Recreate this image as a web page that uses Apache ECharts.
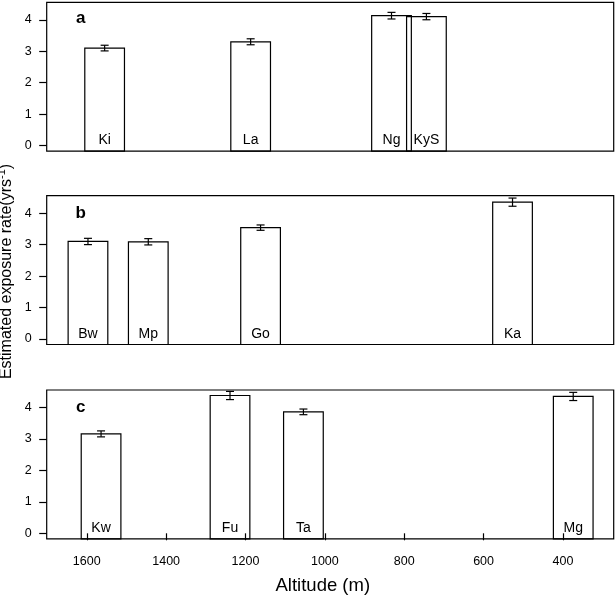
<!DOCTYPE html>
<html>
<head>
<meta charset="utf-8">
<script src="https://cdn.jsdelivr.net/npm/echarts@6/dist/echarts.min.js"></script>
<style>
html,body{margin:0;padding:0;background:#fff;}
#chart{width:615px;height:598px;}
</style>
</head>
<body>
<div id="chart"></div>
<script>
// ---- data ----
const panelLetters = ['a', 'b', 'c'];

const sitesA = ['Ki', 'La', 'Ng', 'KyS'];
const altitudeA = [1555, 1187, 832, 744];
const rateA = [3.10, 3.30, 4.13, 4.10];
const errA = [0.09, 0.095, 0.105, 0.10];

const sitesB = ['Bw', 'Mp', 'Go', 'Ka'];
const altitudeB = [1597, 1445, 1162, 527];
const rateB = [3.10, 3.09, 3.54, 4.35];
const errB = [0.10, 0.10, 0.085, 0.13];

const sitesC = ['Kw', 'Fu', 'Ta', 'Mg'];
const altitudeC = [1564, 1239, 1054, 374];
const rateC = [3.16, 4.38, 3.86, 4.35];
const errC = [0.095, 0.13, 0.09, 0.13];

const xTicks = [1600, 1400, 1200, 1000, 800, 600, 400];
const yTicks = [0, 1, 2, 3, 4];

// ---- scales ----
const X_MIN = 272, X_MAX = 1701;
const Y_MIN = -0.175, Y_MAX = 4.555;
const BAR_WIDTH_M = 100;
const LABEL_Y = 0.17;

const FONT = "'Liberation Sans', Arial, Helvetica, sans-serif";

const panels = [
  {sites: sitesA, alt: altitudeA, rate: rateA, err: errA},
  {sites: sitesB, alt: altitudeB, rate: rateB, err: errB},
  {sites: sitesC, alt: altitudeC, rate: rateC, err: errC}
];

const gridTops = [2.3, 195.7, 390];
const gridHeight = 148.8;

function makeRender(names) {
  return function (params, api) {
    const x = api.value(0), v = api.value(1), e = api.value(2);
    const pA = api.coord([x + BAR_WIDTH_M / 2, v]);
    const pB = api.coord([x - BAR_WIDTH_M / 2, Y_MIN]);
    const rx = Math.min(pA[0], pB[0]);
    const rw = Math.abs(pB[0] - pA[0]);
    const top = api.coord([x, v + e]);
    const bot = api.coord([x, v - e]);
    const lab = api.coord([x, LABEL_Y]);
    const cap = 4;
    const ls = {stroke: '#000', lineWidth: 1.2};
    return {
      type: 'group',
      children: [
        {type: 'rect', shape: {x: rx, y: pA[1], width: rw, height: pB[1] - pA[1]},
         style: {fill: 'none', stroke: '#000', lineWidth: 1.2}},
        {type: 'line', shape: {x1: top[0], y1: top[1], x2: bot[0], y2: bot[1]}, style: ls},
        {type: 'line', shape: {x1: top[0] - cap, y1: top[1], x2: top[0] + cap, y2: top[1]}, style: ls},
        {type: 'line', shape: {x1: bot[0] - cap, y1: bot[1], x2: bot[0] + cap, y2: bot[1]}, style: ls},
        {type: 'text', x: lab[0], y: lab[1],
         style: {text: names[params.dataIndex], align: 'center', verticalAlign: 'middle',
                 font: '14px ' + FONT, fill: '#000'}}
      ]
    };
  };
}

const grids = [], xAxes = [], yAxes = [], series = [];
panels.forEach((p, i) => {
  grids.push({left: 46.7, width: 567, top: gridTops[i], height: gridHeight,
              show: true, borderColor: '#000', borderWidth: 1.2, backgroundColor: 'transparent'});
  const isBottom = i === 2;
  xAxes.push({
    type: 'value', gridIndex: i, min: X_MIN, max: X_MAX, inverse: true,
    show: isBottom,
    splitLine: {show: false},
    axisLine: {show: false},
    axisTick: {show: isBottom, inside: false, length: 7, customValues: xTicks,
               lineStyle: {color: '#000', width: 1.2}},
    axisLabel: {show: isBottom, customValues: xTicks, margin: 16, color: '#000',
                fontSize: 12.5, fontFamily: FONT, formatter: v => String(v)}
  });
  yAxes.push({
    type: 'value', gridIndex: i, min: Y_MIN, max: Y_MAX,
    splitLine: {show: false},
    axisLine: {show: false},
    axisTick: {show: true, inside: false, length: 7.5, customValues: yTicks,
               lineStyle: {color: '#000', width: 1.2}},
    axisLabel: {customValues: yTicks, margin: 15, color: '#000', fontSize: 12.5,
                fontFamily: FONT, formatter: v => String(v)}
  });
  series.push({
    type: 'custom', xAxisIndex: i, yAxisIndex: i,
    renderItem: makeRender(p.sites),
    data: p.alt.map((a, k) => [a, p.rate[k], p.err[k]]),
    silent: true
  });
});

const letterY = [18, 213.3, 407];
const graphics = panelLetters.map((t, i) => ({
  type: 'text', x: 80.7, y: letterY[i],
  style: {text: t, align: 'center', verticalAlign: 'middle',
          font: 'bold 17px ' + FONT, fill: '#000'}
}));
graphics.push({
  type: 'text', x: 322.8, y: 585.7,
  style: {text: 'Altitude (m)', align: 'center', verticalAlign: 'middle',
          font: '18.5px ' + FONT, fill: '#000'}
});
graphics.push({
  type: 'text', x: 6.5, y: 271.5, rotation: Math.PI / 2,
  style: {
    text: '{b|Estimated exposure rate(yrs}{s|-1}{b|)}',
    align: 'center', verticalAlign: 'middle',
    rich: {
      b: {fontSize: 16, fontFamily: FONT, fill: '#000', color: '#000', lineHeight: 20, verticalAlign: 'middle'},
      s: {fontSize: 11, fontFamily: FONT, fill: '#000', color: '#000', lineHeight: 11, verticalAlign: 'top'}
    }
  }
});

const chart = echarts.init(document.getElementById('chart'), null, {renderer: 'canvas'});
chart.setOption({
  backgroundColor: '#fff',
  animation: false,
  grid: grids,
  xAxis: xAxes,
  yAxis: yAxes,
  series: series,
  graphic: graphics
});
</script>
</body>
</html>
